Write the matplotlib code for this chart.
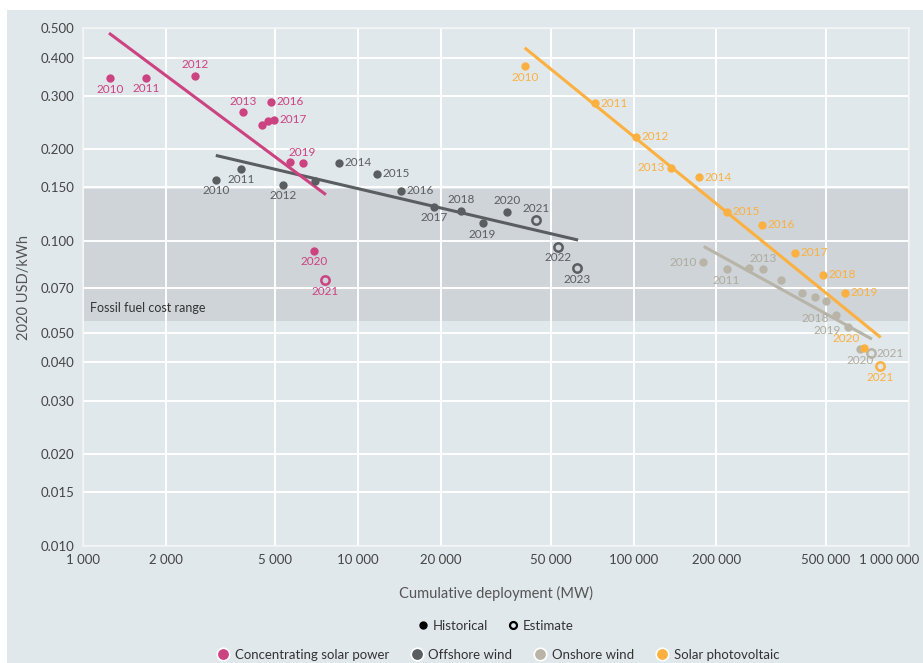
import numpy as np
import matplotlib
matplotlib.use("Agg")
import matplotlib.pyplot as plt
from matplotlib.lines import Line2D
from matplotlib.ticker import FixedLocator, FuncFormatter, NullLocator
from matplotlib.transforms import ScaledTranslation

plt.rcParams['font.family'] = ['Lato', 'DejaVu Sans']

# ---- data ----
csp_years = [2010, 2011, 2012, 2013, 2014, 2015, 2016, 2017, 2018, 2019, 2020, 2021]
csp_mw = [1260, 1694, 2559, 3823, 4470, 4725, 4833, 4955, 5666, 6282, 6908, 7612]
csp_cost = [0.342, 0.343, 0.348, 0.265, 0.240, 0.248, 0.287, 0.250, 0.182, 0.180, 0.093, 0.0745]
csp_est = [False] * 11 + [True]
csp_trend_mw = [1246, 7637]
csp_trend_cost = [0.481, 0.142]

off_years = [2010, 2011, 2012, 2013, 2014, 2015, 2016, 2017, 2018, 2019, 2020, 2021, 2022, 2023]
off_mw = [3051, 3761, 5330, 7000, 8488, 11700, 14300, 18860, 23700, 28310, 34830, 44390, 53210, 62380]
off_cost = [0.159, 0.173, 0.153, 0.158, 0.181, 0.1665, 0.146, 0.1297, 0.1255, 0.1143, 0.1246, 0.1173, 0.0959, 0.0814]
off_est = [False] * 11 + [True, True, True]
off_trend_mw = [3043, 62900]
off_trend_cost = [0.191, 0.1008]

on_years = [2010, 2011, 2012, 2013, 2014, 2015, 2016, 2017, 2018, 2019, 2020, 2021]
on_mw = [178400, 217600, 263000, 294800, 343900, 407400, 455300, 498100, 544600, 598700, 663700, 730000]
on_cost = [0.0854, 0.081, 0.0818, 0.0808, 0.0745, 0.0677, 0.0657, 0.0637, 0.0574, 0.0524, 0.0442, 0.0429]
on_est = [False] * 11 + [True]
on_trend_mw = [179900, 733500]
on_trend_cost = [0.096, 0.0477]

pv_years = [2010, 2011, 2012, 2013, 2014, 2015, 2016, 2017, 2018, 2019, 2020, 2021]
pv_mw = [40370, 72280, 101800, 136200, 172100, 218200, 292400, 385300, 485900, 584000, 688500, 784800]
pv_cost = [0.374, 0.283, 0.220, 0.174, 0.162, 0.125, 0.113, 0.0916, 0.0777, 0.0677, 0.0446, 0.0389]
pv_est = [False] * 11 + [True]
pv_trend_mw = [40240, 789000]
pv_trend_cost = [0.4305, 0.0483]

fossil_low, fossil_high = 0.0545, 0.148

x_ticks = [1000, 2000, 5000, 10000, 20000, 50000, 100000, 200000, 500000, 1000000]
y_ticks = [0.010, 0.015, 0.020, 0.030, 0.040, 0.050, 0.070, 0.100, 0.150, 0.200, 0.300, 0.400, 0.500]

# label placement per point: b below, a above, r right, l left, bl below-left, al above-left, '' none
csp_lab = ['b', 'b', 'a', 'a', '', '', 'r', 'r', '', 'a', 'b', 'b']
off_lab = ['b', 'b', 'b', '', 'r', 'r', 'r', 'b', 'a', 'b', 'a', 'a', 'b', 'b']
on_lab = ['l', 'b', '', 'a', '', '', '', '', 'bl', 'bl', 'b', 'r']
pv_lab = ['b', 'r', 'r', 'l', 'r', 'r', 'r', 'r', 'r', 'r', 'al', 'b']

c_csp = '#cc4381'
c_off = '#5b5e61'
c_on = '#b8b5a8'
c_on_txt = '#aeab9e'
c_pv = '#fbb040'
bg = '#e1e8ec'

fig = plt.figure(figsize=(9.23, 6.63), dpi=100)
fig.patch.set_facecolor('white')
fig.patches.append(plt.Rectangle((7 / 923, 0), 1, 1 - 10 / 663, transform=fig.transFigure,
                                 facecolor=bg, edgecolor='none', zorder=-10))

ax = fig.add_axes([82.7 / 923, 1 - 546 / 663, (909 - 82.7) / 923, (546 - 28) / 663])
ax.set_facecolor(bg)
ax.set_xscale('log')
ax.set_yscale('log')
ax.set_xlim(1000, 1000000)
ax.set_ylim(0.01, 0.5)

ax.axhspan(fossil_low, fossil_high, color='#cfd4d8', zorder=0.2, lw=0)
ax.text(1060, 0.0575, 'Fossil fuel cost range', fontsize=9, color='#333333', va='bottom', ha='left')

ax.set_axisbelow(True)
ax.grid(True, color='white', lw=1.4)
for s in ax.spines.values():
    s.set_color('#f2f4f5')
    s.set_linewidth(1.2)

ax.xaxis.set_major_locator(FixedLocator(x_ticks))
ax.xaxis.set_minor_locator(NullLocator())
ax.xaxis.set_major_formatter(FuncFormatter(lambda v, p: f"{int(round(v)):,}".replace(',', ' ')))
ax.yaxis.set_major_locator(FixedLocator(y_ticks))
ax.yaxis.set_minor_locator(NullLocator())
ax.yaxis.set_major_formatter(FuncFormatter(lambda v, p: f"{v:.3f}"))
ax.tick_params(length=0, labelsize=9.5, labelcolor='#444444', pad=6)
# the last x label runs off the right edge; nudge it left a little
last = ax.xaxis.get_major_ticks()[-1].label1
last.set_transform(last.get_transform() + ScaledTranslation(-20 / 100, 0, fig.dpi_scale_trans))

ax.set_xlabel('Cumulative deployment (MW)', fontsize=10.5, color='#555555', labelpad=14)
ax.set_ylabel('2020 USD/kWh', fontsize=10.5, color='#555555', labelpad=7)

offsets = {
    'b': ((0, -4), 'center', 'top'),
    'a': ((0, 4), 'center', 'bottom'),
    'r': ((4, 0), 'left', 'center'),
    'l': ((-4, 0), 'right', 'center'),
    'bl': ((-5, -3), 'right', 'center'),
    'al': ((-3, 3), 'right', 'bottom'),
}


def draw_series(mw, cost, est, years, labs, trend_mw, trend_cost, color, txtcolor):
    ax.plot(trend_mw, trend_cost, color=color, lw=2.2, zorder=3, solid_capstyle='butt')
    for x, y, e, yr, lab in zip(mw, cost, est, years, labs):
        if e:
            ax.plot(x, y, 'o', ms=6, mfc='none', mec=color, mew=1.8, zorder=4)
        else:
            ax.plot(x, y, 'o', ms=6, mfc=color, mec='none', zorder=4)
        if lab:
            (dx, dy), ha, va = offsets[lab]
            ax.annotate(str(yr), (x, y), xytext=(dx, dy), textcoords='offset points',
                        ha=ha, va=va, fontsize=8.5, color=txtcolor, zorder=5)


draw_series(off_mw, off_cost, off_est, off_years, off_lab, off_trend_mw, off_trend_cost, c_off, c_off)
draw_series(on_mw, on_cost, on_est, on_years, on_lab, on_trend_mw, on_trend_cost, c_on, c_on_txt)
draw_series(pv_mw, pv_cost, pv_est, pv_years, pv_lab, pv_trend_mw, pv_trend_cost, c_pv, c_pv)
draw_series(csp_mw, csp_cost, csp_est, csp_years, csp_lab, csp_trend_mw, csp_trend_cost, c_csp, c_csp)

# legends
h1 = [Line2D([], [], ls='none', marker='o', ms=5, mfc='black', mec='black'),
      Line2D([], [], ls='none', marker='o', ms=5, mfc='none', mec='black', mew=1.6)]
leg1 = fig.legend(h1, ['Historical', 'Estimate'], loc='center', bbox_to_anchor=(495 / 923, 1 - 626 / 663),
                  ncol=2, frameon=False, fontsize=9.5, handletextpad=0.2, columnspacing=1.4,
                  handlelength=1.0)
for t in leg1.get_texts():
    t.set_color('#333333')

names = ['Concentrating solar power', 'Offshore wind', 'Onshore wind', 'Solar photovoltaic']
cols = [c_csp, c_off, c_on, c_pv]
h2 = [Line2D([], [], ls='none', marker='o', ms=9, mfc=c, mec='white', mew=1.2) for c in cols]
leg2 = fig.legend(h2, names, loc='center', bbox_to_anchor=(497 / 923, 1 - 655 / 663),
                  ncol=4, frameon=False, fontsize=9.5, handletextpad=0.3, columnspacing=1.5,
                  handlelength=1.2)
for t in leg2.get_texts():
    t.set_color('#333333')

fig.savefig('out.png', dpi=100, facecolor=fig.get_facecolor())
